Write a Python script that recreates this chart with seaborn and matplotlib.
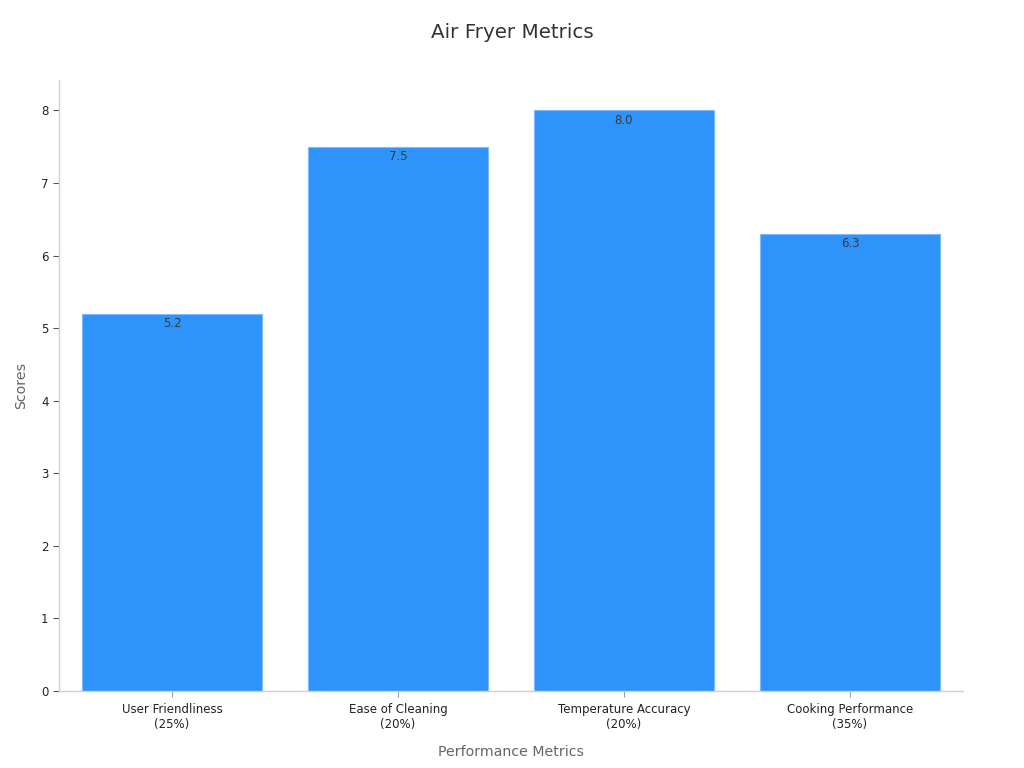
import pandas as pd
import seaborn as sns
import matplotlib.pyplot as plt

metrics = ["User Friendliness\n(25%)", "Ease of Cleaning\n(20%)",
           "Temperature Accuracy\n(20%)", "Cooking Performance\n(35%)"]
scores = [5.2, 7.5, 8.0, 6.3]

df = pd.DataFrame({"Metric": metrics, "Score": scores})

sns.set_theme(style="ticks")
plt.rcParams['font.family'] = ['DejaVu Sans']

fig = plt.figure(figsize=(10.24, 7.68), dpi=100)
ax = fig.add_axes([0.0576, 0.1003, 0.8828, 0.7956])

sns.barplot(data=df, x="Metric", y="Score", color="#2E93FA", saturation=1,
            width=0.8, edgecolor="#7FBCF7", linewidth=0.8, ax=ax)

for i, v in enumerate(scores):
    ax.text(i, v - 0.05, f"{v:.1f}", ha="center", va="top", fontsize=8.5, color="#3a3a3a")

ax.set_xlim(-0.5, 3.5)
ax.set_ylim(0, 8.42)
ax.set_yticks(range(0, 9))
ax.tick_params(axis="both", labelsize=8.5, length=4, width=0.8, direction="out")
ax.tick_params(axis="x", colors="#999999", labelcolor="#222222", bottom=True, pad=4.5)
ax.tick_params(axis="y", colors="#555555", labelcolor="#222222", left=True)

for side in ["top", "right"]:
    ax.spines[side].set_visible(False)
for side in ["left", "bottom"]:
    ax.spines[side].set_color("#d0d0d0")
    ax.spines[side].set_linewidth(1)

ax.set_xlabel("Performance Metrics", fontsize=10.2, color="#666666", labelpad=10)
ax.set_ylabel("Scores", fontsize=10.2, color="#666666", labelpad=9)
fig.suptitle("Air Fryer Metrics", fontsize=14.3, color="#333333", y=0.97)

fig.savefig("out.png", dpi=100)
